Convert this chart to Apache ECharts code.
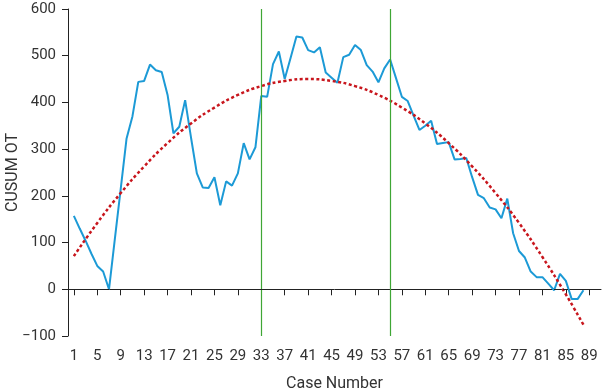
<!DOCTYPE html>
<html>
<head>
<meta charset="utf-8">
<script src="https://cdn.jsdelivr.net/npm/echarts@6/dist/echarts.min.js"></script>
<style>html,body{margin:0;padding:0;background:#fff}#c{width:604px;height:392px}</style>
</head>
<body>
<div id="c"></div>
<script>
// Categories of the x axis (case numbers 0..91; labels shown at 1,5,...,89)
const caseCategories = Array.from({length: 92}, (_, i) => String(i));
// Blue CUSUM OT series (cases 1..88)
const cusumCases = [1,2,3,4,5,6,7,8,9,10,11,12,13,14,15,16,17,18,19,20,21,22,23,24,25,26,27,28,29,30,31,32,33,34,35,36,37,38,39,40,41,42,43,44,45,46,47,48,49,50,51,52,53,54,55,56,57,58,59,60,61,62,63,64,65,66,67,68,69,70,71,72,73,74,75,76,77,78,79,80,81,82,83,84,85,86,87,88];
const cusumValues = [157,130,104,76,50,38,0,108,215,323,370,444,446,481,469,465,416,334,348,405,325,248,218,217,240,180,231,222,248,313,278,304,414,412,482,509,450,495,541,539,512,507,518,464,453,442,497,502,523,512,480,466,443,473,492,452,412,403,372,341,350,361,311,313,315,278,279,281,240,202,195,175,171,152,194,120,82,68,38,26,26,12,-2,33,18,-21,-21,-2];
// Red dashed trend curve
const trendCases = [1,5,9,13,17,21,25,29,33,37,41,45,49,53,57,61,65,69,73,77,81,85,88];
const trendValues = [71,142,206,263,313,355,389,416,435,446,450,446,435,416,389,355,313,263,206,142,69,-11,-76];
// Green vertical marker cases
const markerCases = [33, 55];
// Y axis range
const yMin = -100, yMax = 600, yStep = 100;

const chart = echarts.init(document.getElementById('c'), null, {renderer: 'canvas'});
const font = 'Roboto, "Noto Sans", sans-serif';
const showIdx = (idx) => idx >= 1 && (idx - 1) % 4 === 0;
chart.setOption({
  animation: false,
  grid: {left: 68, right: 3, top: 9, bottom: 56, containLabel: false, outerBoundsMode: 'none'},
  xAxis: {
    type: 'category',
    data: caseCategories,
    boundaryGap: false,
    name: 'Case Number',
    nameLocation: 'middle',
    nameGap: 40,
    nameMoveOverlap: false,
    nameTextStyle: {color: '#333', fontSize: 16, fontFamily: font},
    axisLine: {lineStyle: {color: '#222', width: 1}},
    axisTick: {show: true, interval: (i) => showIdx(i), length: 6, lineStyle: {color: '#222'}},
    axisLabel: {interval: (i) => showIdx(i), color: '#333', fontSize: 15, fontFamily: font, margin: 13},
    splitLine: {show: false}
  },
  yAxis: {
    type: 'value',
    min: yMin, max: yMax, interval: yStep,
    name: 'CUSUM OT',
    nameLocation: 'middle',
    nameGap: 47,
    nameMoveOverlap: false,
    nameTextStyle: {color: '#333', fontSize: 16, fontFamily: font},
    axisLine: {show: true, lineStyle: {color: '#222', width: 1}},
    axisTick: {show: true, length: 6, lineStyle: {color: '#222'}},
    axisLabel: {color: '#333', fontSize: 15, fontFamily: font, margin: 12,
      formatter: (v) => v < 0 ? '\u2212' + Math.abs(v) : String(v)},
    splitLine: {show: false}
  },
  series: [
    {
      type: 'line',
      data: cusumCases.map((c, i) => [String(c), cusumValues[i]]),
      symbol: 'none',
      lineStyle: {color: '#1c9ad6', width: 2},
      z: 3,
      markLine: {
        silent: true,
        symbol: 'none',
        label: {show: false},
        data: [
          ...markerCases.map(c => ({xAxis: String(c), lineStyle: {color: '#3fa635', width: 1.2, type: 'solid'}})),
          {yAxis: 0, lineStyle: {color: '#222', width: 1, type: [5, 4]}}
        ]
      }
    },
    {
      type: 'line',
      data: trendCases.map((c, i) => [String(c), trendValues[i]]),
      symbol: 'none',
      smooth: true,
      lineStyle: {color: '#c8161d', width: 2.5, type: [3, 2.5]},
      z: 4
    }
  ]
});
</script>
</body>
</html>
